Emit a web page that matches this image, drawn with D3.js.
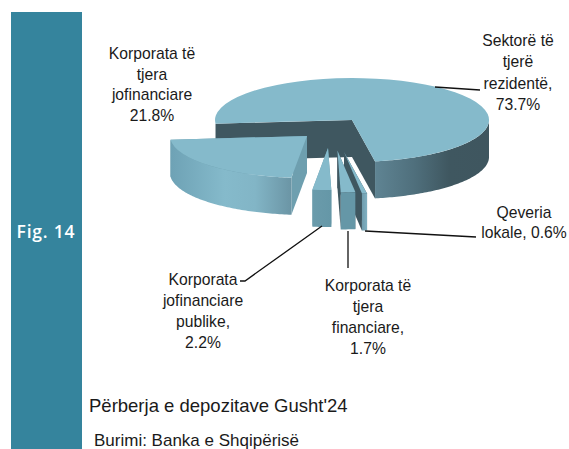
<!DOCTYPE html>
<html>
<head>
<meta charset="utf-8">
<script src="https://cdn.jsdelivr.net/npm/d3@7"></script>
<style>
    html, body { margin: 0; padding: 0; background: #fff; }
    text { font-family: "Liberation Sans", sans-serif; fill: #1a1a1a; }
</style>
</head>
<body>
<div id="chart"></div>
<script>
const categories = ["Sektorë të tjerë rezidentë", "Qeveria lokale", "Korporata të tjera financiare", "Korporata jofinanciare publike", "Korporata të tjera jofinanciare"];
const values = [73.7, 0.6, 1.7, 2.2, 21.8];
const labelLines = [
    ["Sektorë të", "tjerë", "rezidentë,", "73.7%"],
    ["Qeveria", "lokale, 0.6%"],
    ["Korporata të", "tjera", "financiare,", "1.7%"],
    ["Korporata", "jofinanciare", "publike,", "2.2%"],
    ["Korporata të", "tjera", "jofinanciare", "21.8%"]
];
const figLabel = "Fig. 14";
const titleText = "Përberja e depozitave Gusht'24";
const sourceText = "Burimi: Banka e Shqipërisë";

// pie shape
const width = 569, height = 449;
const cx = 352, cy = 120, rx = 137, ry = 42, depth = 37;
const rad = Math.PI / 180;

// how far each slice is pulled out of the pie, on screen
const explode = [[0, 0], [-8, 32], [-14.6, 30.5], [-24, 28], [-45, 16]];
const endWallColor = ["#3f5760", "#3f5760", "#3f5760", "#6597a7", "#6e9faf"];
const startWallColor = ["#3f5760", "#3f5760", "#3f5760", "#6597a7", "#6e9faf"];
const topColor = "#85bacb";

// label placement: centre x, first baseline, line gap
const labelPos = [[518, 46, 21.3], [524, 218, 20], [368, 291, 21], [203, 285, 21], [152, 59, 20.5]];
// leader lines
const leaders = [
    [[435, 87], [480, 90]],
    [[365, 231], [476, 237]],
    [[348, 231], [348, 268]],
    [[322, 226], [245, 281], [240, 281]]
];

const svg = d3.select("#chart")
    .append("svg")
    .attr("width", width)
    .attr("height", height)
    .style("display", "block");

const defs = svg.append("defs");

function addGradient(id, stops) {
    const g = defs.append("linearGradient")
        .attr("id", id)
        .attr("x1", "0%").attr("x2", "100%")
        .attr("y1", "0%").attr("y2", "0%");
    stops.forEach(function (s) {
        g.append("stop").attr("offset", s[0]).attr("stop-color", s[1]);
    });
}
addGradient("wall0", [["0%", "#5f8493"], ["35%", "#4f6f7c"], ["65%", "#3f5760"], ["100%", "#3f565f"]]);
addGradient("wall1", [["0%", "#6f9cad"], ["100%", "#7fb0c1"]]);
addGradient("wall2", [["0%", "#6597a7"], ["100%", "#6597a7"]]);
addGradient("wall3", [["0%", "#6a9bab"], ["100%", "#6597a7"]]);
addGradient("wall4", [["0%", "#6ea2b5"], ["45%", "#85bacb"], ["70%", "#82b5c6"], ["100%", "#6b95a5"]]);

svg.append("rect")
    .attr("x", 11)
    .attr("y", 12)
    .attr("width", 71)
    .attr("height", height - 12)
    .attr("fill", "#35849d");

const pie = d3.pie()
    .sort(null)
    .startAngle(-95 * rad)
    .endAngle(265 * rad);

const arcs = pie(values);

// angle to screen, 0 is up and it goes clockwise like d3.arc
function px(a) { return rx * Math.sin(a); }
function py(a) { return -ry * Math.cos(a); }

const unitArc = d3.arc().innerRadius(0).outerRadius(1);
const line = d3.line();

function drawSlice(d, i) {
    const g = svg.append("g")
        .attr("transform", "translate(" + (cx + explode[i][0]) + "," + (cy + explode[i][1]) + ")");

    const a0 = d.startAngle, a1 = d.endAngle;

    // the two cut faces
    [[a0, startWallColor[i]], [a1, endWallColor[i]]].forEach(function (w) {
        const x = px(w[0]), y = py(w[0]);
        g.append("path")
            .attr("d", line([[0, 0], [x, y], [x, y + depth], [0, depth]]) + "Z")
            .attr("fill", w[1]);
    });

    // outer wall, only the part that faces the viewer
    const from = Math.max(a0, 90 * rad), to = Math.min(a1, 270 * rad);
    if (to > from) {
        const steps = d3.range(from, to, 1 * rad).concat([to]);
        const upper = steps.map(function (a) { return [px(a), py(a)]; });
        const lower = steps.slice().reverse().map(function (a) { return [px(a), py(a) + depth]; });
        g.append("path")
            .attr("d", line(upper.concat(lower)) + "Z")
            .attr("fill", "url(#wall" + i + ")");
    }

    // top face
    g.append("path")
        .attr("d", unitArc(d))
        .attr("transform", "scale(" + rx + "," + ry + ")")
        .attr("fill", topColor);
}

// back to front so the small slices overlap correctly
[0, 4, 1, 2, 3].forEach(function (i) { drawSlice(arcs[i], i); });

svg.selectAll(".leader")
    .data(leaders)
    .enter()
    .append("path")
    .attr("class", "leader")
    .attr("d", function (d) { return line(d); })
    .attr("fill", "none")
    .attr("stroke", "#111")
    .attr("stroke-width", 1.3);

labelLines.forEach(function (lines, i) {
    const p = labelPos[i];
    svg.append("text")
        .attr("text-anchor", "middle")
        .style("font-size", "15.7px")
        .selectAll("tspan")
        .data(lines)
        .enter()
        .append("tspan")
        .attr("x", p[0])
        .attr("y", function (d, j) { return p[1] + j * p[2]; })
        .text(function (d) { return d; });
});

svg.append("text")
    .attr("x", 46)
    .attr("y", 238)
    .attr("text-anchor", "middle")
    .style("font-family", "'Open Sans', sans-serif")
    .style("font-weight", "600")
    .style("font-size", "17.5px")
    .style("letter-spacing", "0.8px")
    .style("fill", "#fff")
    .text(figLabel);

svg.append("text")
    .attr("x", 89)
    .attr("y", 412)
    .style("font-size", "18.5px")
    .text(titleText);

svg.append("text")
    .attr("x", 94)
    .attr("y", 446)
    .style("font-size", "17px")
    .text(sourceText);
</script>
</body>
</html>
